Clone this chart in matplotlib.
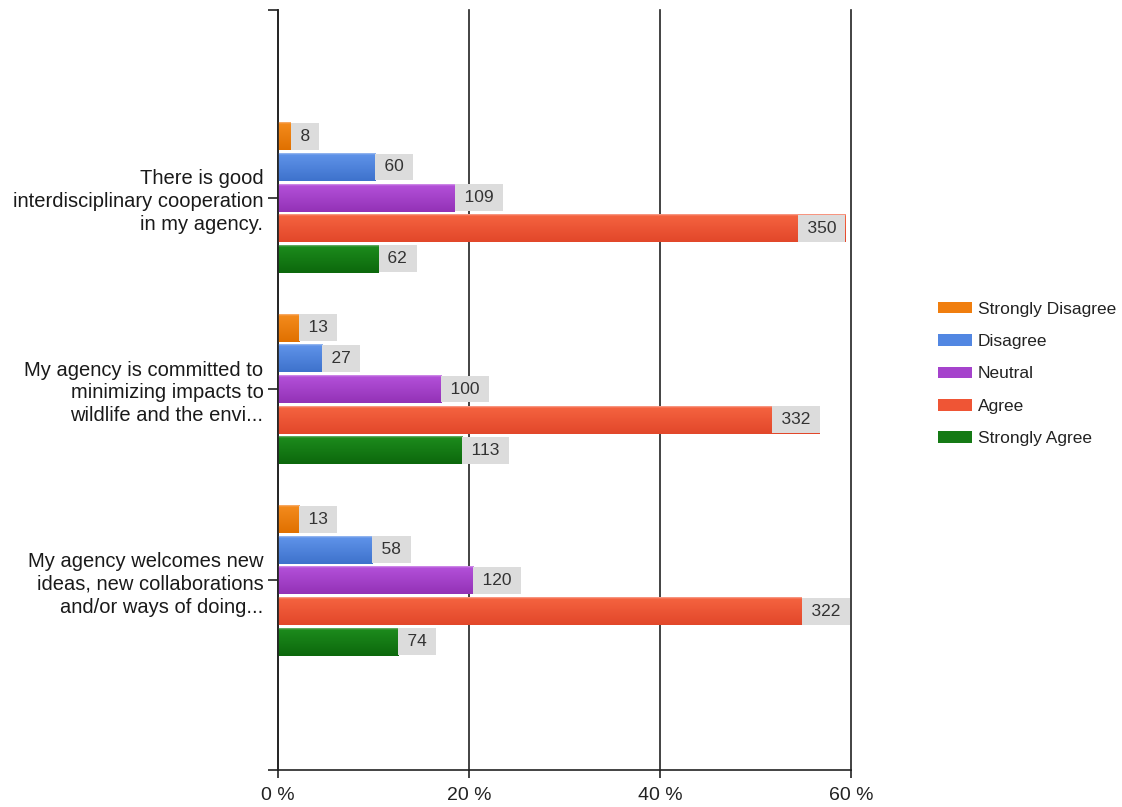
import numpy as np
import matplotlib
matplotlib.use("Agg")
import matplotlib.pyplot as plt
from matplotlib.colors import LinearSegmentedColormap
from matplotlib.patches import Patch

plt.rcParams["font.family"] = ["Liberation Sans", "DejaVu Sans"]

# Survey statements (top to bottom) and response counts
questions = [
    "There is good\ninterdisciplinary cooperation\nin my agency.",
    "My agency is committed to\nminimizing impacts to\nwildlife and the envi...",
    "My agency welcomes new\nideas, new collaborations\nand/or ways of doing...",
]
responses = ["Strongly Disagree", "Disagree", "Neutral", "Agree", "Strongly Agree"]
strongly_disagree = [8, 13, 13]
disagree = [60, 27, 58]
neutral = [109, 100, 120]
agree = [350, 332, 322]
strongly_agree = [62, 113, 74]
x_ticks = [0, 20, 40, 60]
x_tick_labels = ["0 %", "20 %", "40 %", "60 %"]

# (highlight, top, bottom) shades of each response colour
shades = [
    ("#f9b072", "#f38a1c", "#e07000"),
    ("#9dbcf0", "#5e92e8", "#3e72cc"),
    ("#d392ea", "#b24fd8", "#9332b6"),
    ("#f8a290", "#f4623f", "#e2472a"),
    ("#6fb06f", "#1c8a1c", "#0c680c"),
]
legend_colors = ["#f07e0e", "#5287e2", "#a543cc", "#ef5535", "#157a15"]

series = [strongly_disagree, disagree, neutral, agree, strongly_agree]
counts = np.array(series, dtype=float)
totals = counts.sum(axis=0)
percents = counts / totals * 100

fig = plt.figure(figsize=(11.22, 8.07), dpi=100)
ax = fig.add_axes([278 / 1122, 1 - 770 / 807, 573 / 1122, 760 / 807])
ax.set_xlim(0, 60)
ax.set_ylim(2.99, -0.98)

pos = np.arange(len(questions))
step = 0.16
bar_h = 0.146
grad = np.linspace(0, 1, 64).reshape(-1, 1)
label_fs = 12.5
pad_frac = 0.34           # vertical padding of the value boxes, in font-size units
thin = "\u2009"

fig.canvas.draw()
renderer = fig.canvas.get_renderer()

for i, (pct, cnt) in enumerate(zip(percents, counts)):
    y = pos + (i - 2) * step
    bars = ax.barh(y, pct, height=bar_h, color="none", edgecolor="none", zorder=2)
    cmap = LinearSegmentedColormap.from_list(
        f"g{i}", [(0, shades[i][0]), (0.06, shades[i][1]), (1, shades[i][2])])
    for b, v, c in zip(bars, pct, cnt):
        x0, y0 = b.get_x(), b.get_y()
        w, h = b.get_width(), b.get_height()
        ax.imshow(grad, cmap=cmap, extent=[x0, x0 + w, y0 + h, y0], origin="upper",
                  aspect="auto", interpolation="bilinear", zorder=2)
        pad_pt = pad_frac * label_fs
        txt = ax.annotate(f"{thin}{int(c)}{thin}", xy=(v, y0 + h / 2), xytext=(pad_pt, 0),
                          textcoords="offset points", ha="left", va="center",
                          fontsize=label_fs, color="#333333", zorder=3,
                          bbox=dict(boxstyle=f"square,pad={pad_frac}", fc="#dcdcdc", ec="none"))
        # value boxes that would run past the axis sit inside the bar end instead
        box = txt.get_bbox_patch()
        tw = txt.get_window_extent(renderer).width
        box_w = tw + 2 * pad_pt * fig.dpi / 72
        end_px = ax.transData.transform((v, 0))[0] + box_w
        if end_px > ax.transData.transform((60, 0))[0]:
            txt.set_position((-pad_pt, 0))
            txt.set_ha("right")

ax.set_xticks(x_ticks)
ax.set_xticklabels(x_tick_labels, fontsize=14, color="#222222")
ax.set_yticks(pos)
ax.set_yticklabels(questions, fontsize=14.5, color="#1a1a1a", linespacing=1.25)
ax.set_yticks([2.99, -0.98], minor=True)

ax.tick_params(axis="x", direction="out", length=6, width=1.2, color="#222222", pad=6)
ax.tick_params(axis="y", which="both", direction="out", length=7.5, width=1.2,
               color="#222222", pad=3)

for side in ("top", "right"):
    ax.spines[side].set_visible(False)
for side in ("left", "bottom"):
    ax.spines[side].set_color("#222222")
    ax.spines[side].set_linewidth(1.2)

ax.set_axisbelow(True)
ax.grid(axis="x", color="#222222", linewidth=1.2)
ax.grid(axis="y", visible=False)
for gl in ax.get_xgridlines():
    gl.set_clip_on(False)

handles = [Patch(facecolor=c, edgecolor="none") for c in legend_colors]
fig.legend(handles, responses, loc="center left", bbox_to_anchor=(938 / 1122, 1 - 374 / 807),
           frameon=False, fontsize=12.5, handlelength=1.95, handleheight=0.65,
           handletextpad=0.35, labelspacing=1.0, borderpad=0, borderaxespad=0,
           labelcolor="#222222")

fig.savefig("out.png", dpi=100)
